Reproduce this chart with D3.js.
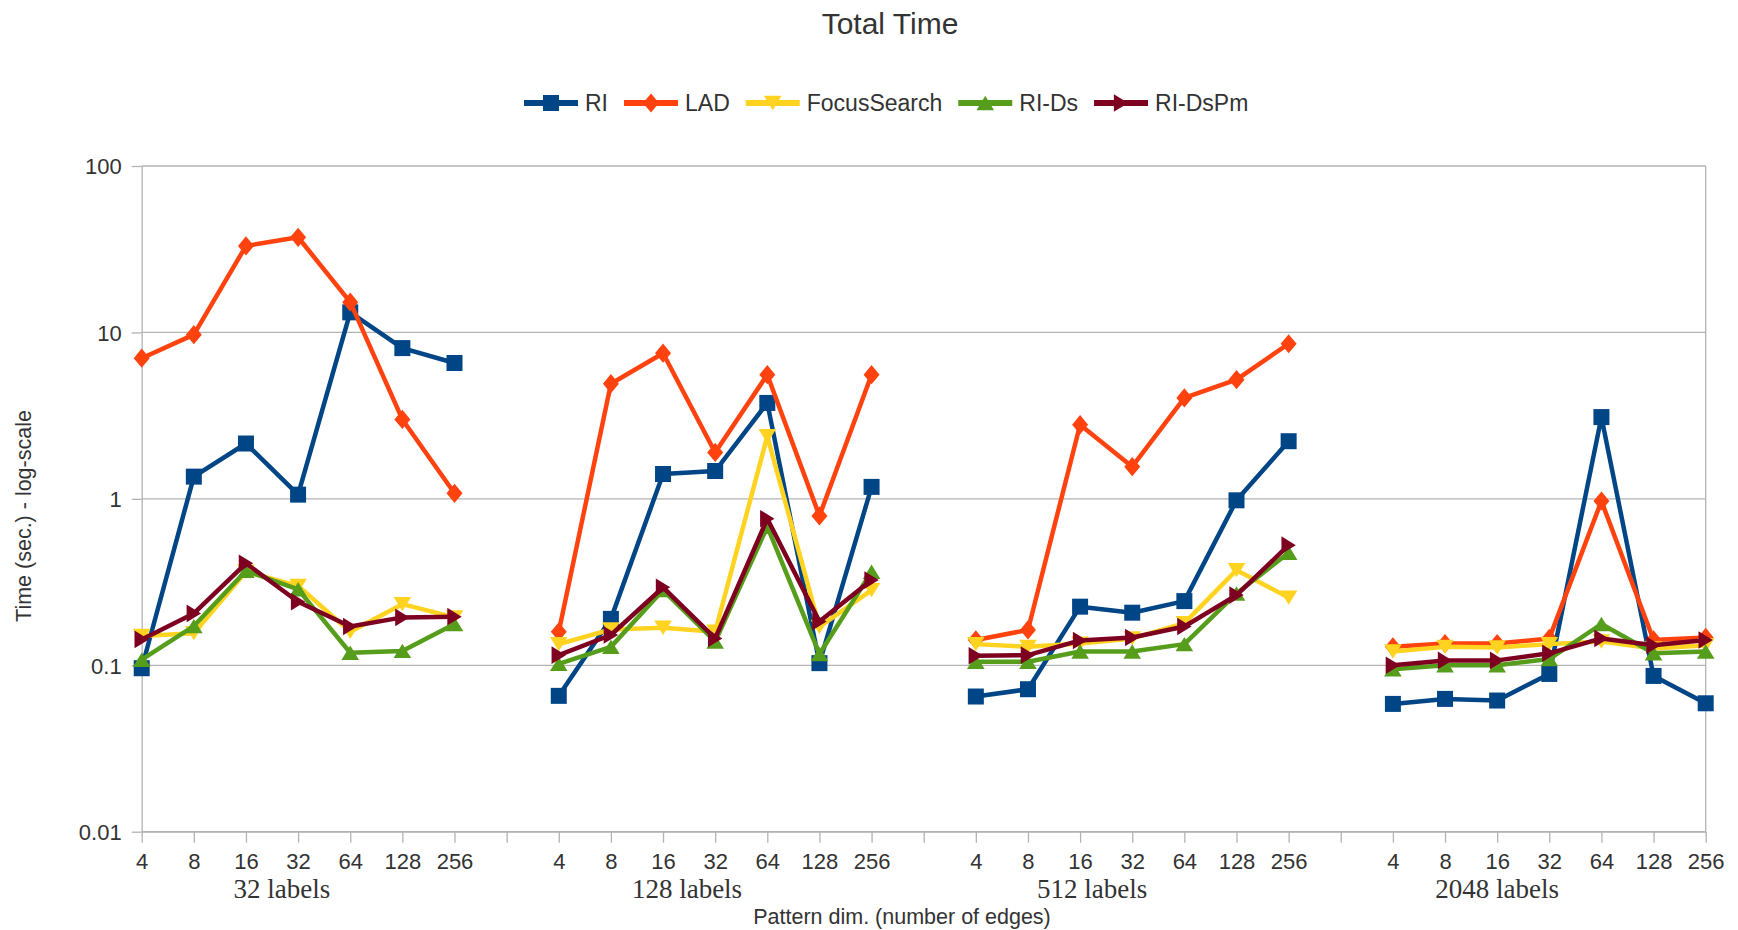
<!DOCTYPE html>
<html>
<head>
<meta charset="utf-8">
<script src="https://cdn.jsdelivr.net/npm/d3@7"></script>
<style>
  html, body { margin: 0; padding: 0; background: #ffffff; }
  svg { display: block; }
  text { font-family: "Liberation Sans", Arial, sans-serif; fill: #333333; }
  .serif { font-family: "Liberation Serif", "Times New Roman", serif; }
</style>
</head>
<body>
<script>
// Pattern sizes (number of edges) on the x axis, repeated for each label-count group
const edges = [4, 8, 16, 32, 64, 128, 256];
const groups = ["32 labels", "128 labels", "512 labels", "2048 labels"];

// y axis ticks (log scale)
const yTicks = [0.01, 0.1, 1, 10, 100];
const yTickLabels = ["0.01", "0.1", "1", "10", "100"];

// Total time in seconds; 7 values per group, groups in the order above
const riValues = [
  0.096, 1.36, 2.15, 1.06, 13.2, 8.05, 6.55,
  0.0655, 0.19, 1.41, 1.47, 3.77, 0.103, 1.18,
  0.0649, 0.0718, 0.225, 0.207, 0.243, 0.98, 2.22,
  0.0586, 0.0628, 0.0614, 0.0887, 3.1, 0.0863, 0.0591
];
const ladValues = [
  7.0, 9.7, 33.1, 37.3, 15.2, 3.0, 1.08,
  0.159, 4.92, 7.5, 1.9, 5.57, 0.79, 5.57,
  0.142, 0.163, 2.79, 1.56, 4.04, 5.2, 8.55,
  0.129, 0.135, 0.135, 0.145, 0.97, 0.142, 0.147
];
const focusSearchValues = [
  0.15, 0.156, 0.365, 0.30, 0.159, 0.233, 0.194,
  0.134, 0.164, 0.168, 0.159, 2.38, 0.17, 0.283,
  0.134, 0.129, 0.135, 0.145, 0.179, 0.373, 0.255,
  0.121, 0.129, 0.128, 0.134, 0.139, 0.126, 0.132
];
const riDsValues = [
  0.108, 0.172, 0.37, 0.286, 0.119, 0.122, 0.177,
  0.102, 0.129, 0.283, 0.139, 0.68, 0.117, 0.365,
  0.105, 0.105, 0.121, 0.121, 0.134, 0.27, 0.474,
  0.0946, 0.1, 0.1, 0.109, 0.177, 0.118, 0.121
];
const riDsPmValues = [
  0.143, 0.205, 0.41, 0.241, 0.171, 0.194, 0.196,
  0.115, 0.152, 0.294, 0.145, 0.76, 0.183, 0.325,
  0.114, 0.115, 0.141, 0.147, 0.171, 0.264, 0.527,
  0.1, 0.107, 0.107, 0.118, 0.145, 0.132, 0.142
];

const seriesNames = ["RI", "LAD", "FocusSearch", "RI-Ds", "RI-DsPm"];
const seriesColors = ["#004586", "#ff420e", "#ffd320", "#579d1c", "#7e0021"];
const seriesValues = [riValues, ladValues, focusSearchValues, riDsValues, riDsPmValues];

// ---- marker shapes ----
function polySymbol(points) {
  return { draw(ctx, size) {
    const s = Math.sqrt(size);
    points.forEach(([px, py], i) => i ? ctx.lineTo(px * s, py * s) : ctx.moveTo(px * s, py * s));
    ctx.closePath();
  }};
}
const markerTypes = [
  polySymbol([[-0.5, -0.5], [0.5, -0.5], [0.5, 0.5], [-0.5, 0.5]]),          // square
  polySymbol([[0, -0.6], [0.5, 0], [0, 0.6], [-0.5, 0]]),                    // diamond
  polySymbol([[-0.55, -0.45], [0.55, -0.45], [0, 0.45]]),                    // down triangle
  polySymbol([[0, -0.45], [0.55, 0.45], [-0.55, 0.45]]),                     // up triangle
  polySymbol([[-0.45, -0.55], [0.45, 0], [-0.45, 0.55]])                     // right triangle
];
const markerSize = 16 * 16;

// ---- layout ----
const W = 1738, H = 930;
const plot = { left: 141.7, right: 1705.7, top: 166, bottom: 831.7 };

const svg = d3.select("body").append("svg").attr("width", W).attr("height", H);

// one slot per (group, edges) pair plus an empty slot between groups
const slotKeys = [];
const slotLabel = {};
groups.forEach((g, gi) => {
  edges.forEach(e => { const k = g + "|" + e; slotKeys.push(k); slotLabel[k] = String(e); });
  if (gi < groups.length - 1) { const k = "gap" + gi; slotKeys.push(k); slotLabel[k] = ""; }
});

const x = d3.scalePoint().domain(slotKeys).range([plot.left, plot.right]).padding(0);
const y = d3.scaleLog().domain([0.01, 100]).range([plot.bottom, plot.top]);

// horizontal gridlines
svg.append("g").selectAll("line").data(yTicks).join("line")
  .attr("x1", plot.left).attr("x2", plot.right)
  .attr("y1", d => y(d)).attr("y2", d => y(d))
  .attr("stroke", "#b3b3b3").attr("stroke-width", 1.3);

// right border of the plot area
svg.append("line")
  .attr("x1", plot.right).attr("x2", plot.right)
  .attr("y1", plot.top).attr("y2", plot.bottom)
  .attr("stroke", "#b3b3b3").attr("stroke-width", 1.3);

// y axis
const yAxis = svg.append("g").attr("transform", `translate(${plot.left},0)`)
  .call(d3.axisLeft(y).tickValues(yTicks).tickSize(10).tickSizeOuter(0)
    .tickFormat((d, i) => yTickLabels[i]));
yAxis.select(".domain").attr("stroke", "#b3b3b3").attr("stroke-width", 1.3);
yAxis.selectAll(".tick line").attr("stroke", "#b3b3b3").attr("stroke-width", 1.3);
yAxis.selectAll(".tick text").attr("x", -20).attr("dy", "0.36em")
  .style("font-size", "22px").style("font-family", null).attr("fill", "#333333");

// x axis
const xAxis = svg.append("g").attr("transform", `translate(0,${plot.bottom})`)
  .call(d3.axisBottom(x).tickValues(slotKeys).tickSize(11).tickSizeOuter(0)
    .tickFormat(k => slotLabel[k]));
xAxis.select(".domain").attr("stroke", "#b3b3b3").attr("stroke-width", 1.3);
xAxis.selectAll(".tick line").attr("stroke", "#b3b3b3").attr("stroke-width", 1.3);
xAxis.selectAll(".tick text").attr("y", 21.7).attr("dy", "0.71em")
  .style("font-size", "22px").style("font-family", null).attr("fill", "#333333");

// group labels below the pattern sizes
const groupLabelStep = 7.77 * x.step();
svg.append("g").selectAll("text").data(groups).join("text")
  .attr("class", "serif")
  .attr("x", (d, i) => plot.left + 2.69 * x.step() + i * groupLabelStep)
  .attr("y", 898)
  .attr("text-anchor", "middle")
  .style("font-size", "27px")
  .text(d => d);

// series: line first, then its markers, series by series
const line = d3.line()
  .defined(d => d.v != null)
  .x(d => x(d.k))
  .y(d => y(d.v));

seriesValues.forEach((vals, si) => {
  const pts = slotKeys.map(k => {
    if (k.startsWith("gap")) return { k, v: null };
    const [g, e] = k.split("|");
    return { k, v: vals[groups.indexOf(g) * edges.length + edges.indexOf(+e)] };
  });
  const g = svg.append("g");
  g.append("path").datum(pts)
    .attr("d", line)
    .attr("fill", "none")
    .attr("stroke", seriesColors[si])
    .attr("stroke-width", 4.5)
    .attr("stroke-linejoin", "round");
  g.selectAll("path.m").data(pts.filter(d => d.v != null)).join("path")
    .attr("class", "m")
    .attr("transform", d => `translate(${x(d.k)},${y(d.v)})`)
    .attr("d", d3.symbol().type(markerTypes[si]).size(markerSize))
    .attr("fill", seriesColors[si]);
});

// title
svg.append("text")
  .attr("x", 890).attr("y", 34)
  .attr("text-anchor", "middle")
  .style("font-size", "30px")
  .text("Total Time");

// axis titles
svg.append("text")
  .attr("transform", "translate(31,516) rotate(-90)")
  .attr("text-anchor", "middle")
  .style("font-size", "21.5px")
  .text("Time (sec.) - log-scale");

svg.append("text")
  .attr("x", 902).attr("y", 924)
  .attr("text-anchor", "middle")
  .style("font-size", "21.5px")
  .text("Pattern dim. (number of edges)");

// legend
const legend = svg.append("g").attr("transform", "translate(524,103)");
let lx = 0;
seriesNames.forEach((name, si) => {
  const item = legend.append("g").attr("transform", `translate(${lx},0)`);
  item.append("line")
    .attr("x1", 0).attr("x2", 54).attr("y1", 0).attr("y2", 0)
    .attr("stroke", seriesColors[si]).attr("stroke-width", 6);
  item.append("path")
    .attr("transform", "translate(27,0)")
    .attr("d", d3.symbol().type(markerTypes[si]).size(markerSize))
    .attr("fill", seriesColors[si]);
  const t = item.append("text")
    .attr("x", 61).attr("y", 8)
    .style("font-size", "23px")
    .text(name);
  lx += 61 + t.node().getComputedTextLength() + 16;
});
</script>
</body>
</html>
